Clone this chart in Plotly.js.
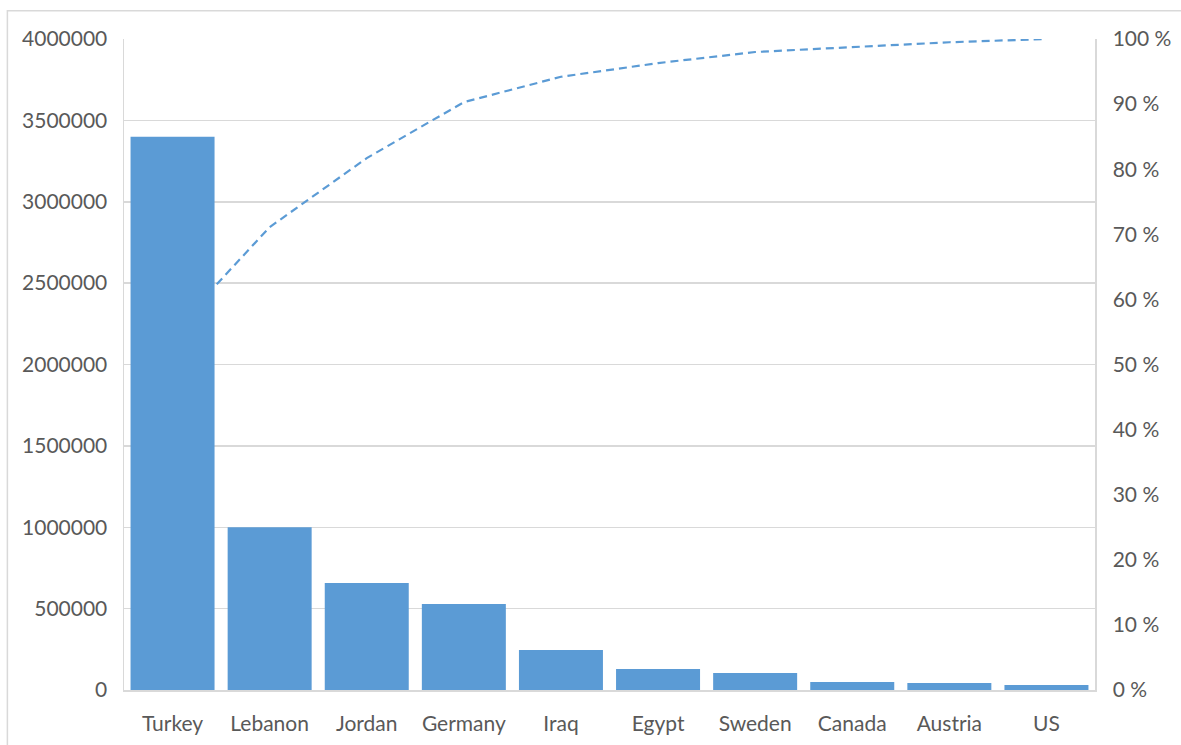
<!DOCTYPE html>
<html>
<head>
<meta charset="utf-8">
<script src="https://cdn.plot.ly/plotly-3.0.1.min.js"></script>
<style>
  html, body { margin: 0; padding: 0; background: #ffffff; }
  #chart { width: 1181px; height: 745px; }
</style>
</head>
<body>
<div id="chart"></div>
<script>
// Countries hosting refugees, sorted largest first
const countries = ['Turkey', 'Lebanon', 'Jordan', 'Germany', 'Iraq', 'Egypt', 'Sweden', 'Canada', 'Austria', 'US'];
const refugees = [3400000, 1000000, 657000, 528000, 246000, 129000, 104000, 49000, 43000, 31000];
// Cumulative share of the total, in percent
const cumulativePct = [55.0, 71.1, 81.7, 90.3, 94.2, 96.3, 98.0, 98.8, 99.5, 100];

const countTicks = [0, 500000, 1000000, 1500000, 2000000, 2500000, 3000000, 3500000, 4000000];
const pctTicks = [0, 10, 20, 30, 40, 50, 60, 70, 80, 90, 100];

const blue = '#5b9bd5';
const grid = '#d9d9d9';
const textGray = '#595959';
const font = { family: 'Lato, "Liberation Sans", sans-serif', size: 21, color: textGray };

// Cumulative line sits on the base subplot so the bars (overlay) cover it
const lineTrace = {
  type: 'scatter',
  mode: 'lines',
  x: countries,
  y: cumulativePct,
  xaxis: 'x',
  yaxis: 'y',
  line: { color: blue, width: 2.2, dash: '8px,5px' },
  hoverinfo: 'skip'
};

const barTrace = {
  type: 'bar',
  x: countries,
  y: refugees,
  xaxis: 'x',
  yaxis: 'y2',
  marker: { color: blue, line: { width: 0 } }
};

const layout = {
  width: 1181,
  height: 745,
  margin: { l: 124, r: 86, t: 39, b: 55, pad: 0 },
  paper_bgcolor: '#ffffff',
  plot_bgcolor: 'rgba(0,0,0,0)',
  showlegend: false,
  bargap: 0.135,
  font: font,
  xaxis: {
    type: 'category',
    categoryorder: 'array',
    categoryarray: countries,
    showgrid: false,
    showline: true,
    linecolor: grid,
    linewidth: 1.5,
    ticks: '',
    ticklabelstandoff: 14,
    tickfont: font,
    zeroline: false
  },
  yaxis: {
    side: 'right',
    range: [0, 100],
    tickvals: pctTicks,
    ticktext: pctTicks.map(v => v + ' %'),
    showgrid: false,
    zeroline: false,
    showline: true,
    linecolor: grid,
    linewidth: 1.5,
    ticks: '',
    ticklabelstandoff: 12,
    tickfont: font
  },
  yaxis2: {
    overlaying: 'y',
    side: 'left',
    range: [0, 4000000],
    tickvals: countTicks,
    ticktext: countTicks.map(v => String(v)),
    showgrid: true,
    gridcolor: grid,
    gridwidth: 1.5,
    zeroline: false,
    showline: true,
    linecolor: grid,
    linewidth: 1.5,
    ticks: '',
    ticklabelstandoff: 11,
    tickfont: font
  },
  shapes: [
    {
      type: 'rect',
      xref: 'paper', yref: 'paper',
      x0: -0.1201, x1: 1.12,
      y0: -0.12, y1: 1.0435,
      line: { color: grid, width: 1.5 },
      fillcolor: 'rgba(0,0,0,0)',
      layer: 'below'
    }
  ]
};

Plotly.newPlot('chart', [lineTrace, barTrace], layout, { displayModeBar: false, staticPlot: true });
</script>
</body>
</html>
